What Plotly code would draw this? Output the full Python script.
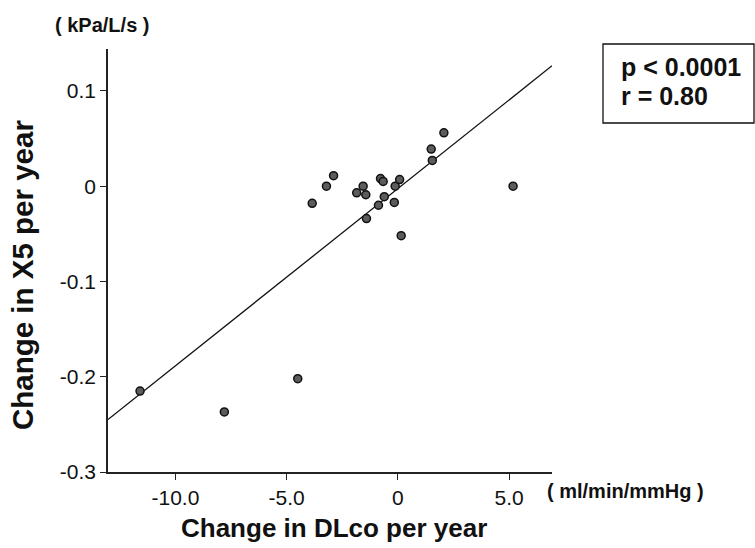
import plotly.graph_objects as go

# Data
dlco_change = [-11.59, -7.80, -4.50, -3.85, -3.21, -2.89, -1.85, -1.56, -1.44, -1.41,
               -0.87, -0.78, -0.66, -0.61, -0.16, -0.12, 0.08, 0.15, 1.50, 1.55, 2.07, 5.18]
x5_change = [-0.215, -0.237, -0.202, -0.018, 0.000, 0.011, -0.007, 0.000, -0.009, -0.034,
             -0.020, 0.008, 0.005, -0.011, -0.017, 0.000, 0.007, -0.052, 0.039, 0.027, 0.056, 0.000]

fit_slope = 0.0186
fit_intercept = -0.0025

x_range = [-13.03, 6.93]
y_range = [-0.3, 0.144]

x_tickvals = [-10, -5, 0, 5]
x_ticktext = ["-10.0", "-5.0", "0", "5.0"]
y_tickvals = [0.1, 0, -0.1, -0.2, -0.3]
y_ticktext = ["0.1", "0", "-0.1", "-0.2", "-0.3"]

FONT = "Arial, Liberation Sans, sans-serif"

fig = go.Figure()

fit_x = [x_range[0], x_range[1]]
fit_y = [fit_intercept + fit_slope * v for v in fit_x]
fig.add_trace(go.Scatter(x=fit_x, y=fit_y, mode="lines",
                         line=dict(color="#111111", width=1.3),
                         hoverinfo="skip", showlegend=False, cliponaxis=True))

fig.add_trace(go.Scatter(x=dlco_change, y=x5_change, mode="markers",
                         marker=dict(size=8, color="#5c5c5c",
                                     line=dict(color="#111111", width=1.5)),
                         showlegend=False, cliponaxis=False))

L, R, T, B = 108, 755 - 552, 49, 548 - 472
PW, PH = 755 - L - R, 548 - T - B

def px(x):
    return (x - L) / PW

def py(y):
    return (548 - B - y) / PH

fig.update_layout(
    width=755, height=548,
    margin=dict(l=L, r=R, t=T, b=B, pad=0),
    paper_bgcolor="white", plot_bgcolor="white",
    font=dict(family=FONT, size=21, color="#111111"),
    xaxis=dict(range=x_range, tickvals=x_tickvals, ticktext=x_ticktext,
               showgrid=False, zeroline=False, showline=True, linecolor="#222222",
               linewidth=1.6, ticks="outside", ticklen=6, tickwidth=1.2,
               tickcolor="#222222", tickfont=dict(size=21, family=FONT)),
    yaxis=dict(range=y_range, tickvals=y_tickvals, ticktext=y_ticktext,
               showgrid=False, zeroline=False, showline=True, linecolor="#222222",
               linewidth=1.6, ticks="outside", ticklen=6, tickwidth=1.2,
               tickcolor="#222222", tickfont=dict(size=21, family=FONT)),
    shapes=[dict(type="rect", xref="paper", yref="paper",
                 x0=px(603), x1=px(754), y0=py(123), y1=py(44),
                 line=dict(color="#111111", width=1.3), fillcolor="white")],
)

ann = [
    dict(text="<b>Change in X5 per year</b>", x=px(22), y=py(275), textangle=-90,
         font=dict(size=29.5, family=FONT), xanchor="center", yanchor="middle"),
    dict(text="<b>Change in DLco per year</b>", x=px(334), y=py(528),
         font=dict(size=26, family=FONT), xanchor="center", yanchor="middle"),
    dict(text="<b>( kPa/L/s )</b>", x=px(102), y=py(25),
         font=dict(size=20, family=FONT), xanchor="center", yanchor="middle"),
    dict(text="<b>( ml/min/mmHg )</b>", x=px(545), y=py(491),
         font=dict(size=20, family=FONT), xanchor="left", yanchor="middle"),
    dict(text="<b>p < 0.0001</b>", x=px(619), y=py(67),
         font=dict(size=25, family=FONT), xanchor="left", yanchor="middle"),
    dict(text="<b>r = 0.80</b>", x=px(619), y=py(96),
         font=dict(size=25, family=FONT), xanchor="left", yanchor="middle"),
]
for a in ann:
    a.update(xref="paper", yref="paper", showarrow=False)
fig.update_layout(annotations=ann)

fig.write_html("out.html")
